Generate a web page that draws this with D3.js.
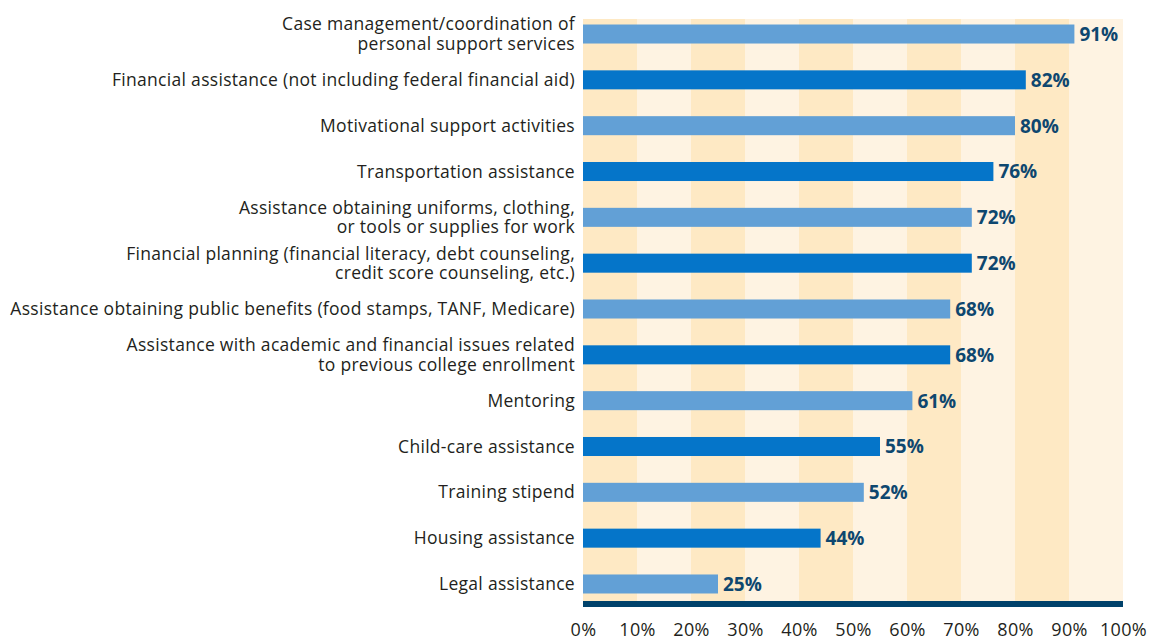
<!DOCTYPE html>
<html>
<head>
<meta charset="utf-8">
<script src="https://cdn.jsdelivr.net/npm/d3@7"></script>
<style>
  body { margin: 0; background: #fff; }
  svg { display: block; }
</style>
</head>
<body>
<div id="chart"></div>
<script>
// category labels (multi-line ones split into lines)
const categories = [
  ["Case management/coordination of", "personal support services"],
  ["Financial assistance (not including federal financial aid)"],
  ["Motivational support activities"],
  ["Transportation assistance"],
  ["Assistance obtaining uniforms, clothing,", "or tools or supplies for work"],
  ["Financial planning (financial literacy, debt counseling,", "credit score counseling, etc.)"],
  ["Assistance obtaining public benefits (food stamps, TANF, Medicare)"],
  ["Assistance with academic and financial issues related", "to previous college enrollment"],
  ["Mentoring"],
  ["Child-care assistance"],
  ["Training stipend"],
  ["Housing assistance"],
  ["Legal assistance"]
];
const values = [91, 82, 80, 76, 72, 72, 68, 68, 61, 55, 52, 44, 25];
const tickValues = [0, 10, 20, 30, 40, 50, 60, 70, 80, 90, 100];

const width = 1150, height = 638;
const plot = { left: 583, right: 1123, top: 19, bottom: 601 };
const font = "'Open Sans', sans-serif";

const svg = d3.select("#chart").append("svg")
  .attr("width", width)
  .attr("height", height);

const x = d3.scaleLinear().domain([0, 100]).range([plot.left, plot.right]);

const ids = categories.map((c, i) => i);
const y = d3.scaleBand()
  .domain(ids)
  .range([11.1, 606.9])
  .paddingInner(0.585)
  .paddingOuter(0.2925);

// striped background
const stripes = d3.range(0, 100, 10);
svg.selectAll("rect.stripe")
  .data(stripes)
  .enter().append("rect")
  .attr("class", "stripe")
  .attr("x", d => x(d))
  .attr("y", plot.top)
  .attr("width", d => x(d + 10) - x(d))
  .attr("height", plot.bottom - plot.top)
  .attr("fill", (d, i) => i % 2 === 0 ? "#fee9c4" : "#fef3e2");

// bars
svg.selectAll("rect.bar")
  .data(values)
  .enter().append("rect")
  .attr("class", "bar")
  .attr("x", x(0))
  .attr("y", (d, i) => y(i))
  .attr("width", d => x(d) - x(0))
  .attr("height", y.bandwidth())
  .attr("fill", (d, i) => i % 2 === 0 ? "#62a0d6" : "#0575c9");

// value labels
svg.selectAll("text.val")
  .data(values)
  .enter().append("text")
  .attr("class", "val")
  .attr("x", d => x(d) + 5)
  .attr("y", (d, i) => y(i) + y.bandwidth() / 2)
  .attr("dy", "0.36em")
  .attr("font-family", font)
  .attr("font-size", "19px")
  .attr("font-weight", "bold")
  .attr("fill", "#0e476f")
  .text(d => d + "%");

// category labels
const lab = svg.selectAll("text.cat")
  .data(categories)
  .enter().append("text")
  .attr("class", "cat")
  .attr("text-anchor", "end")
  .attr("font-family", font)
  .attr("font-size", "17.5px")
  .attr("letter-spacing", "0.3px")
  .attr("fill", "#231f20");

lab.each(function(lines, i) {
  const cy = y(i) + y.bandwidth() / 2;
  const lh = 19.5;
  const y0 = cy - (lines.length - 1) * lh / 2;
  d3.select(this).selectAll("tspan")
    .data(lines)
    .enter().append("tspan")
    .attr("x", 575)
    .attr("y", (d, j) => y0 + j * lh)
    .attr("dy", "0.35em")
    .text(d => d);
});

// bottom axis band
svg.append("rect")
  .attr("x", x(0))
  .attr("y", plot.bottom)
  .attr("width", x(100) - x(0))
  .attr("height", 6)
  .attr("fill", "#00426b");

const xAxis = d3.axisBottom(x)
  .tickValues(tickValues)
  .tickFormat(d => d + "%")
  .tickSize(0)
  .tickPadding(0);

const ax = svg.append("g")
  .attr("transform", `translate(0, ${plot.bottom + 22})`)
  .call(xAxis);
ax.select(".domain").remove();
ax.selectAll("text")
  .attr("font-family", font)
  .attr("font-size", "18px")
  .attr("letter-spacing", "0.3px")
  .attr("fill", "#231f20");
</script>
</body>
</html>
